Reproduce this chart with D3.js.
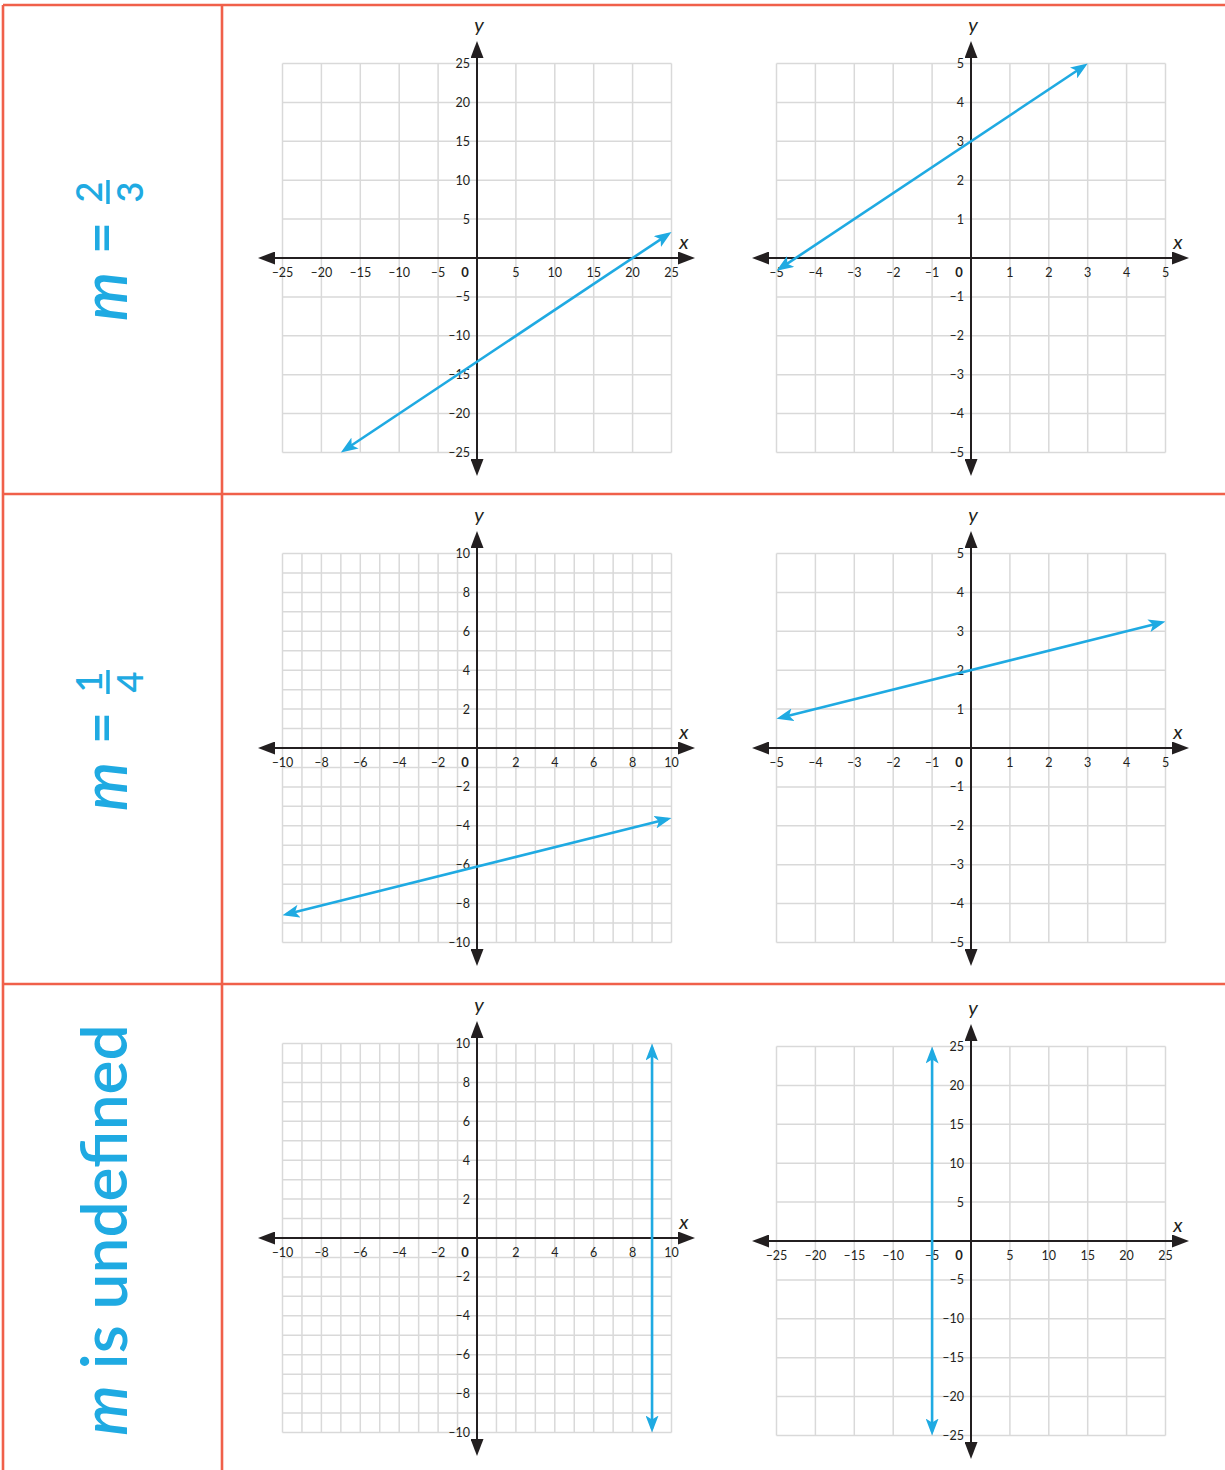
<!DOCTYPE html>
<html><head><meta charset="utf-8">
<script src="https://cdn.jsdelivr.net/npm/d3@7"></script>
<style>body{margin:0;background:#fff} svg{display:block}</style>
</head><body>
<svg id="chart" width="1225" height="1470"></svg>
<script>
// ---------- data ----------
const rowLabelNum = ["2", "1", null];
const rowLabelDen = ["3", "4", null];
const rowLabelWord = [null, null, " is undefined"];
const panelRange = [25, 5, 10, 5, 10, 25];
const gridStep   = [5, 1, 1, 1, 1, 5];
const labelStep  = [5, 1, 2, 1, 2, 5];
const lineX1 = [-17.5, -5, -10, -5, 9, -5];
const lineY1 = [-25, -0.33, -8.6, 0.75, -10, -25];
const lineX2 = [25, 3, 10, 5, 9, -5];
const lineY2 = [3.33, 5, -3.6, 3.25, 10, 25];

// ---------- layout ----------
const colOX = [477, 971];
const panelOY = [258, 258, 748, 748, 1238, 1241];
const HALF = 194.5;
const BLUE = "#1faae2", INK = "#231f20", GRID = "#d9d9d9", RED = "#f0604a";
const FONT = "Lato, 'Open Sans', sans-serif";

const svg = d3.select("#chart");
const defs = svg.append("defs");
function marker(id, d, fill) {
  defs.append("marker").attr("id", id)
    .attr("viewBox", "0 0 17 13").attr("refX", 13).attr("refY", 6.5)
    .attr("markerWidth", 17).attr("markerHeight", 13)
    .attr("markerUnits", "userSpaceOnUse").attr("orient", "auto-start-reverse")
    .append("path").attr("d", d).attr("fill", fill);
}
marker("axArrow", "M0,0L17,6.5L0,13Z", INK);
marker("lnArrow", "M0,0L17,6.5L0,13L4,6.5Z", BLUE);

const fmt = v => v < 0 ? "\u2013" + (-v) : String(v);

// ---------- table borders ----------
const borders = svg.append("g").attr("stroke", RED).attr("stroke-width", 2.6);
borders.append("line").attr("x1", 3).attr("x2", 1225).attr("y1", 5).attr("y2", 5);
borders.append("line").attr("x1", 3).attr("x2", 3).attr("y1", 5).attr("y2", 1470);
borders.append("line").attr("x1", 222).attr("x2", 222).attr("y1", 5).attr("y2", 1470);
[494, 984].forEach(y => borders.append("line").attr("x1", 3).attr("x2", 1225).attr("y1", y).attr("y2", y));

// ---------- panels ----------
panelRange.forEach((R, i) => {
  const ox = colOX[i % 2], oy = panelOY[i];
  const x = d3.scaleLinear().domain([-R, R]).range([ox - HALF, ox + HALF]);
  const y = d3.scaleLinear().domain([-R, R]).range([oy + HALF, oy - HALF]);
  const g = svg.append("g");

  const gv = d3.range(-R, R + 1e-9, gridStep[i]);
  const grid = g.append("g").attr("stroke", GRID).attr("stroke-width", 1.5);
  grid.selectAll(".v").data(gv).join("line")
    .attr("x1", d => x(d)).attr("x2", d => x(d)).attr("y1", y(R)).attr("y2", y(-R));
  grid.selectAll(".h").data(gv).join("line")
    .attr("y1", d => y(d)).attr("y2", d => y(d)).attr("x1", x(-R)).attr("x2", x(R));

  // axes
  g.append("line").attr("x1", x(0) - 215).attr("x2", x(0) + 214).attr("y1", y(0)).attr("y2", y(0))
    .attr("stroke", INK).attr("stroke-width", 2)
    .attr("marker-start", "url(#axArrow)").attr("marker-end", "url(#axArrow)");
  g.append("line").attr("y1", y(0) + 214).attr("y2", y(0) - 213).attr("x1", x(0)).attr("x2", x(0))
    .attr("stroke", INK).attr("stroke-width", 2)
    .attr("marker-start", "url(#axArrow)").attr("marker-end", "url(#axArrow)");

  // tick labels
  const lv = d3.range(-R, R + 1e-9, labelStep[i]).filter(d => Math.abs(d) > 1e-9);
  const tl = g.append("g").attr("font-family", FONT).attr("font-size", 12.5).attr("fill", INK);
  tl.selectAll(".xl").data(lv).join("text")
    .attr("x", d => x(d)).attr("y", y(0) + 18.5).attr("text-anchor", "middle").text(fmt);
  tl.selectAll(".yl").data(lv).join("text")
    .attr("x", x(0) - 7).attr("y", d => y(d) + 4.5).attr("text-anchor", "end").text(fmt);
  tl.append("text").attr("x", x(0) - 12).attr("y", y(0) + 18.5).attr("text-anchor", "middle")
    .attr("font-weight", 700).attr("font-size", 13).text("0");

  // axis names
  const an = g.append("g").attr("font-family", FONT).attr("font-style", "italic")
    .attr("font-size", 20).attr("fill", INK).attr("text-anchor", "middle");
  an.append("text").attr("x", x(0) + 207).attr("y", y(0) - 9).text("x");
  an.append("text").attr("x", x(0) + 2).attr("y", y(0) - 226).text("y");

  // blue line
  let p1 = [x(lineX1[i]), y(lineY1[i])], p2 = [x(lineX2[i]), y(lineY2[i])];
  const L = Math.hypot(p2[0] - p1[0], p2[1] - p1[1]);
  const ux = (p2[0] - p1[0]) / L, uy = (p2[1] - p1[1]) / L;
  g.append("line")
    .attr("x1", p1[0] + 4 * ux).attr("y1", p1[1] + 4 * uy)
    .attr("x2", p2[0] - 4 * ux).attr("y2", p2[1] - 4 * uy)
    .attr("stroke", BLUE).attr("stroke-width", 2.6)
    .attr("marker-start", "url(#lnArrow)").attr("marker-end", "url(#lnArrow)");
});

// ---------- row labels ----------
const rowCY = [250, 740, 1230];
rowCY.forEach((cy, r) => {
  const g = svg.append("g").attr("transform", `translate(127,${cy}) rotate(-90)`)
    .attr("fill", BLUE).attr("font-family", FONT).attr("font-weight", 600);
  if (rowLabelWord[r] === null) {
    g.append("text").attr("x", -71).attr("y", 0).attr("font-size", 62)
      .attr("font-style", "italic").text("m");
    g.append("text").attr("x", 12).attr("y", -6).attr("font-size", 56)
      .attr("text-anchor", "middle").text("=");
    g.append("text").attr("x", 58).attr("y", -25).attr("font-size", 36)
      .attr("text-anchor", "middle").text(rowLabelNum[r]);
    g.append("line").attr("x1", 46).attr("x2", 70).attr("y1", -19).attr("y2", -19)
      .attr("stroke", BLUE).attr("stroke-width", 3.5);
    g.append("text").attr("x", 58).attr("y", 16).attr("font-size", 36)
      .attr("text-anchor", "middle").text(rowLabelDen[r]);
  } else {
    const t = g.append("text").attr("x", 0).attr("y", 0).attr("font-size", 64)
      .attr("text-anchor", "middle");
    t.append("tspan").attr("font-style", "italic").text("m");
    t.append("tspan").text(rowLabelWord[r]);
  }
});
</script>
</body></html>
